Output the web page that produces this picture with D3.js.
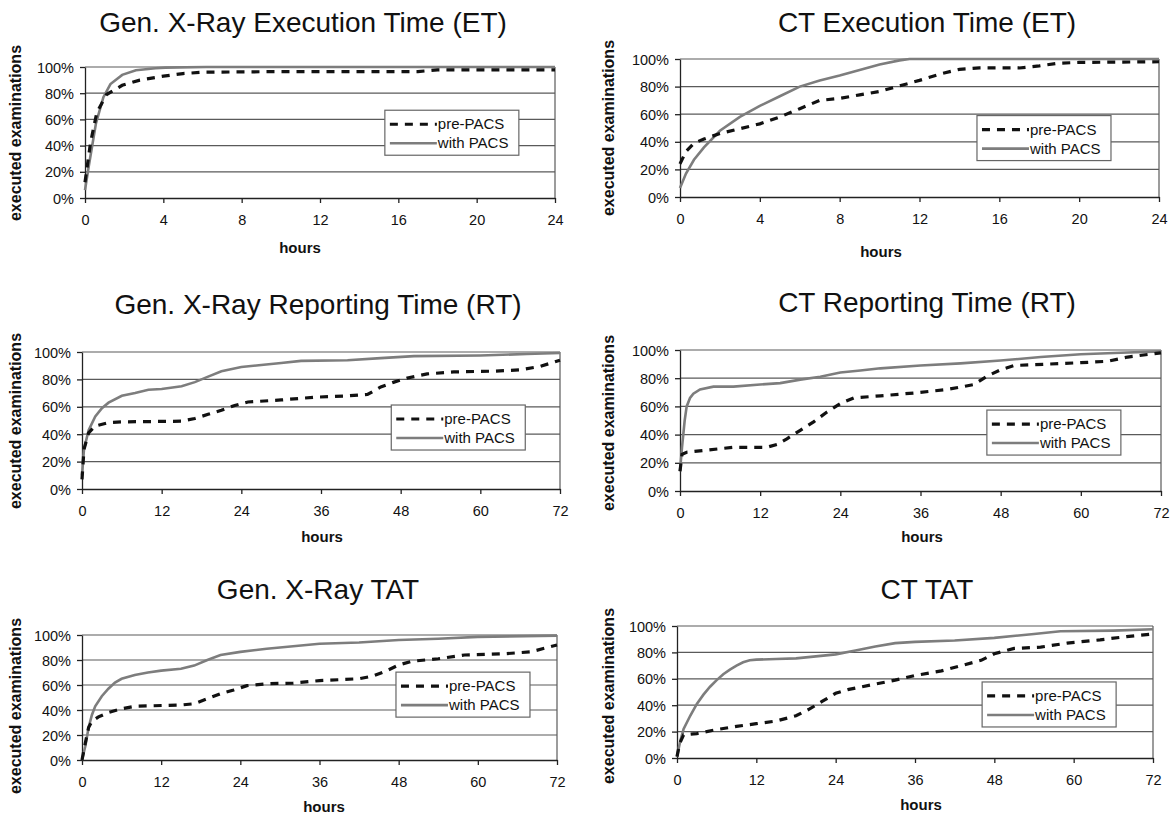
<!DOCTYPE html>
<meta charset="utf-8">
<style>
body { margin:0; background:#fff; }
svg { font-family: "Liberation Sans", Arial, sans-serif; }
.title { font-size:28px; text-anchor:middle; fill:#111; }
.axis text { font-size:14.5px; fill:#111; font-family:"Liberation Sans", Arial, sans-serif; }
.axis path, .axis line { stroke:#222; stroke-width:1.3; }
.grid line { stroke:#5a5a5a; stroke-width:1.2; }
.xlab { font-size:15px; font-weight:bold; text-anchor:middle; fill:#111; }
.ylab { font-size:16px; font-weight:bold; text-anchor:middle; fill:#111; }
.legend text { font-size:15px; fill:#111; }
</style>
<body>
<script src="https://d3js.org/d3.v7.min.js"></script>
<script>

var titles = ["Gen. X-Ray Execution Time (ET)", "CT Execution Time (ET)",
  "Gen. X-Ray Reporting Time (RT)", "CT Reporting Time (RT)",
  "Gen. X-Ray TAT", "CT TAT"];
var seriesNames = ["pre-PACS", "with PACS"];
var yTicks = [0, 20, 40, 60, 80, 100];
var xTicks24 = [0, 4, 8, 12, 16, 20, 24];
var xTicks72 = [0, 12, 24, 36, 48, 60, 72];

// [hours, % executed]
var xrayEtPre = [[0,12],[0.28,42],[0.6,65],[1.1,79],[1.9,86],[2.8,90],[4,93],[5,95],[6,96],[10,96.5],[17,96.5],[18,97.8],[24,97.8]];
var xrayEtPacs = [[0,6],[0.2,25],[0.56,57],[0.94,77],[1.3,87],[1.9,94],[2.6,97.5],[3.6,99],[4.1,99.5],[6.2,100],[24,100]];

var ctEtPre = [[0,24],[0.3,33],[0.7,39],[1.2,42],[2,46],[3,49.5],[4,53],[5,58],[6,64],[7,70],[8,71.5],[9,74],[10,76.5],[11,80.5],[12,84.5],[13,89],[14,92.5],[15,93.5],[17,93.5],[18,95],[19,97],[20,97.5],[24,98]];
var ctEtPacs = [[0,6.5],[0.3,17],[0.7,27],[1.2,36],[2,48],[3,58],[4,66],[5,73],[6,80],[7,84.5],[8,88],[9,92],[10,96],[11,99],[11.5,100],[24,100]];

var xrayRtPre = [[0,7],[0.3,29],[1,41],[2,46],[4,48.5],[6,49],[15,49.5],[17,51.5],[19,54.5],[21,57.5],[23,61],[25,63.5],[30,65],[35,67],[40,68],[43,69],[45,74.5],[47,78],[49,81],[52,84],[56,85.5],[62,86],[66,87],[69,89.5],[72,94]];
var xrayRtPacs = [[0,10],[0.3,29],[1,43],[2,53],[3,59],[4,63],[6,68],[8,70],[10,72.5],[12,73],[15,75],[17,78],[19,82],[21,86],[24,89],[27,90.5],[30,92],[33,93.5],[40,94],[45,95.5],[50,97],[60,97.5],[67,98.5],[72,99.3]];

var ctRtPre = [[0,14],[0.3,26],[1,27.5],[4,29],[8,31],[13,31],[14.5,33],[16,37],[18,43],[20,49],[22,56],[24,62],[26,66],[30,67.5],[35,69.5],[40,72],[44,75.5],[46,81.5],[48,86],[50,89],[55,90],[60,91],[64,92],[67,95],[72,98]];
var ctRtPacs = [[0,14],[0.3,31],[0.7,50],[1,60],[1.5,66],[2,69],[3,72],[5,74],[8,74],[12,75.5],[15,76.5],[18,79],[21,81],[24,84],[27,85.5],[30,87],[36,89],[42,90.5],[48,92.5],[54,95],[60,97],[66,98],[72,99]];

var xrayTatPre = [[0,0],[0.5,13.5],[1,26],[1.5,31],[2.5,34.5],[4,38],[6,41],[8,43],[15,44],[17,45],[19,49],[21,53],[23,56],[25,59.5],[28,61],[32,61.5],[36,63.5],[42,65],[44,67],[46,71],[48,76],[50,79],[54,81],[58,84],[64,85],[68,86.5],[72,92]];
var xrayTatPacs = [[0,0],[0.5,11],[1,26],[1.5,36],[2,43],[3,51],[4,57],[5,62],[6,65],[8,68],[10,70],[12,71.5],[15,73],[17,75.5],[19,80],[21,84],[24,86.5],[28,89],[32,91],[36,93],[42,94],[48,96],[54,97],[60,98.5],[72,99.5]];

var ctTatPre = [[0,1],[0.4,11],[1,17.5],[3,18.5],[6,21.5],[9,24],[12,26],[15,28],[18,32],[20,37],[22,43],[24,49],[26,52],[30,56],[33,59],[36,62.5],[40,66],[43,70],[46,74],[48,79],[51,83],[55,84],[59,87],[64,89.5],[68,92],[72,94]];
var ctTatPacs = [[0,1],[0.5,13],[1,22],[2,32],[3,41],[4,48],[5,54],[6,59],[7,63.5],[8,67],[9,70],[10,72.5],[11,74],[12,74.5],[15,75],[18,75.5],[21,77],[24,78.5],[27,81.5],[30,84.5],[33,87],[36,88],[42,89],[48,91],[54,94],[58,96],[66,96.5],[72,97.5]];

// layout of the six panels (pixels in the 1170x817 page)
var panels = [
  {pre:xrayEtPre, pacs:xrayEtPacs, xMax:24, ticks:xTicks24, x0:85, x1:555, y0:67, y1:198, tx:303, ty:32, hx:300, hy:253, yx:15, yy:133, lg:[0.638,0.33]},
  {pre:ctEtPre, pacs:ctEtPacs, xMax:24, ticks:xTicks24, x0:680, x1:1159, y0:59, y1:197, tx:927, ty:32, hx:881, hy:257, yx:608, yy:128, lg:[0.62,0.41]},
  {pre:xrayRtPre, pacs:xrayRtPacs, xMax:72, ticks:xTicks72, x0:82, x1:560, y0:352, y1:489, tx:318, ty:314, hx:322, hy:542, yx:15, yy:421, lg:[0.647,0.387]},
  {pre:ctRtPre, pacs:ctRtPacs, xMax:72, ticks:xTicks72, x0:680, x1:1161, y0:350, y1:491, tx:927, ty:312, hx:922, hy:542, yx:608, yy:423, lg:[0.638,0.426]},
  {pre:xrayTatPre, pacs:xrayTatPacs, xMax:72, ticks:xTicks72, x0:82, x1:557, y0:635, y1:760, tx:318, ty:599, hx:324, hy:812, yx:15, yy:706, lg:[0.661,0.297]},
  {pre:ctTatPre, pacs:ctTatPacs, xMax:72, ticks:xTicks72, x0:677, x1:1153, y0:626, y1:758, tx:927, ty:599, hx:921, hy:810, yx:608, yy:696, lg:[0.641,0.424]}
];

var svg = d3.select("body").append("svg").attr("width", 1170).attr("height", 817);

panels.forEach(function(p, i){
  var x = d3.scaleLinear().domain([0, p.xMax]).range([p.x0, p.x1]);
  var y = d3.scaleLinear().domain([0, 100]).range([p.y1, p.y0]);
  var g = svg.append("g");

  g.append("text").attr("class","title").attr("x",p.tx).attr("y",p.ty).text(titles[i]);

  // gridlines
  g.append("g").attr("class","grid").selectAll("line").data(yTicks.slice(1)).join("line")
    .attr("x1",p.x0).attr("x2",p.x1).attr("y1",d=>y(d)).attr("y2",d=>y(d));
  g.append("line").attr("x1",p.x1).attr("x2",p.x1).attr("y1",p.y0).attr("y2",p.y1)
    .attr("stroke","#5a5a5a").attr("stroke-width",1.2);

  var ya = g.append("g").attr("class","axis").attr("transform","translate("+p.x0+",0)")
    .call(d3.axisLeft(y).tickValues(yTicks).tickFormat(d=>d+"%").tickSize(5).tickPadding(6).tickSizeOuter(0));
  ya.selectAll("text").attr("dy","0.35em");

  g.append("g").attr("class","axis").attr("transform","translate(0,"+p.y1+")")
    .call(d3.axisBottom(x).tickValues(p.ticks).tickSize(5).tickPadding(12).tickSizeOuter(0));

  g.append("text").attr("class","xlab").attr("x",p.hx).attr("y",p.hy).text("hours");
  g.append("text").attr("class","ylab")
    .attr("transform","translate("+p.yx+","+p.yy+") rotate(-90)").attr("dy","0.35em")
    .text("executed examinations");

  var line = d3.line().x(d=>x(d[0])).y(d=>y(d[1]));
  g.append("path").datum(p.pacs).attr("d",line).attr("fill","none")
    .attr("stroke","#7d7d7d").attr("stroke-width",2.6);
  g.append("path").datum(p.pre).attr("d",line).attr("fill","none")
    .attr("stroke","#111").attr("stroke-width",3.2).attr("stroke-dasharray","8,7");

  // legend
  var lx = p.x0 + p.lg[0]*(p.x1-p.x0), ly = p.y0 + p.lg[1]*(p.y1-p.y0);
  var lg = g.append("g").attr("class","legend").attr("transform","translate("+lx+","+ly+")");
  lg.append("rect").attr("width",134).attr("height",45).attr("fill","#fff")
    .attr("stroke","#666").attr("stroke-width",1.2);
  lg.append("line").attr("x1",5).attr("x2",52).attr("y1",14).attr("y2",14)
    .attr("stroke","#111").attr("stroke-width",3.2).attr("stroke-dasharray","8,7");
  lg.append("line").attr("x1",5).attr("x2",52).attr("y1",33).attr("y2",33)
    .attr("stroke","#7d7d7d").attr("stroke-width",2.6);
  lg.selectAll("text.s").data(seriesNames).join("text").attr("class","s")
    .attr("x",53).attr("y",(d,k)=>14+k*19).attr("dy","0.35em").text(d=>d);
});
</script>
</body>
